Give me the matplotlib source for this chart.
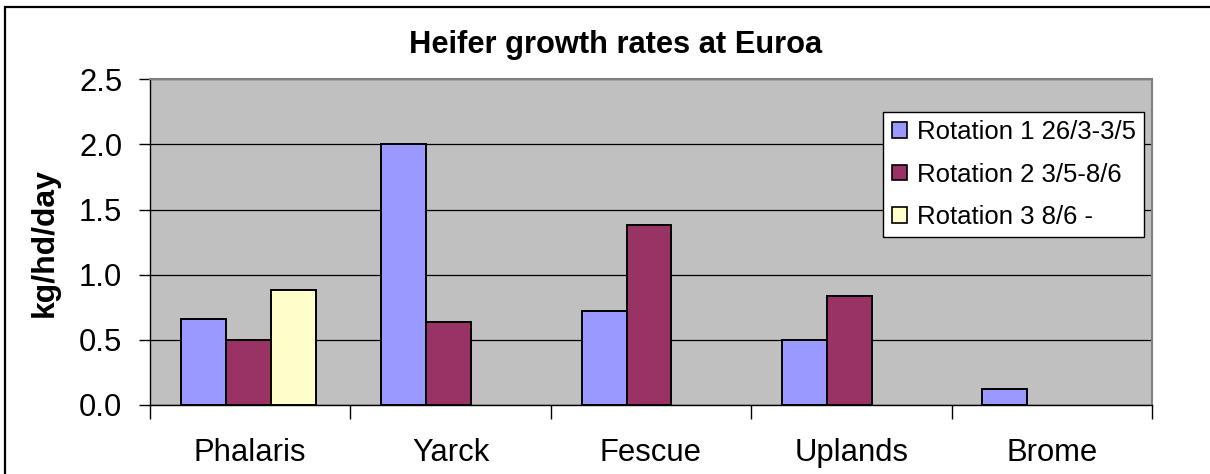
import numpy as np
import matplotlib
matplotlib.use("Agg")
import matplotlib.pyplot as plt
from matplotlib.patches import Rectangle

categories = ["Phalaris", "Yarck", "Fescue", "Uplands", "Brome"]
rotation1 = [0.66, 2.00, 0.72, 0.50, 0.12]
rotation2 = [0.50, 0.64, 1.38, 0.84, np.nan]
rotation3 = [0.88, np.nan, np.nan, np.nan, np.nan]
series_labels = ["Rotation 1 26/3-3/5", "Rotation 2 3/5-8/6", "Rotation 3 8/6 -"]
colors = ["#9999FF", "#993366", "#FFFFCC"]
yticks = [0.0, 0.5, 1.0, 1.5, 2.0, 2.5]
title = "Heifer growth rates at Euroa"
ylabel = "kg/hd/day"

plt.rcParams['font.family'] = ['Liberation Sans', 'DejaVu Sans']

W, H = 1210, 474
fig = plt.figure(figsize=(W / 100, H / 100), dpi=100)
ax = fig.add_axes([150 / W, 1 - 405 / H, (1152 - 150) / W, (405 - 79.3) / H])
ax.set_facecolor("#C0C0C0")

x = np.arange(len(categories))
w = 0.2245
series = [rotation1, rotation2, rotation3]
for i, (vals, lab, col) in enumerate(zip(series, series_labels, colors)):
    ax.bar(x + (i - 1) * w - 0.01, vals, width=w, color=col, edgecolor="black",
           linewidth=1.4, label=lab, zorder=3)

ax.set_xlim(-0.5, len(categories) - 0.5)
ax.set_ylim(0, 2.5)
ax.set_yticks(yticks)
ax.set_yticklabels([f"{v:.1f}" for v in yticks])
ax.yaxis.grid(True, color="black", linewidth=0.9, zorder=1)
ax.set_axisbelow(True)

ax.set_xticks(x)
ax.set_xticklabels(categories)
ax.set_xticks(np.arange(-0.5, len(categories), 1.0), minor=True)
ax.tick_params(axis="x", which="major", length=0, pad=24, labelsize=22.3)
ax.tick_params(axis="x", which="minor", length=10, width=1, direction="out", color="black")
ax.tick_params(axis="y", length=8, width=1, direction="out", pad=12, labelsize=22.3)

for s in ["left", "bottom"]:
    ax.spines[s].set_color("black")
    ax.spines[s].set_linewidth(1.0)
for s in ["top", "right"]:
    ax.spines[s].set_color("#808080")
    ax.spines[s].set_linewidth(1.5)

ax.set_ylabel(ylabel, fontsize=23, fontweight="bold", va="center")
ax.yaxis.set_label_coords((45 - 150) / (1152 - 150), 0.5)

fig.text(615.5 / W, 1 - 53 / H, title, ha="center", va="baseline",
         fontsize=22.2, fontweight="bold")

leg = ax.legend(loc="upper right", bbox_to_anchor=(1144 / W, 1 - 112 / H),
                bbox_transform=fig.transFigure, borderaxespad=0,
                fontsize=18.5, frameon=True, fancybox=False, shadow=False,
                handlelength=0.58, handleheight=0.55, handletextpad=0.4,
                labelspacing=0.72, borderpad=0.32)
leg.get_frame().set_edgecolor("black")
leg.get_frame().set_linewidth(1.0)
leg.get_frame().set_facecolor("white")
leg.get_frame().set_alpha(1)
for p in leg.get_patches():
    p.set_linewidth(1.2)

border = Rectangle((5 / W, -0.2), 2.0, 1.2 - 7 / H, transform=fig.transFigure,
                   fill=False, edgecolor="black", linewidth=1.6, clip_on=False)
fig.patches.append(border)

fig.savefig("out.png", dpi=100, facecolor="white")
